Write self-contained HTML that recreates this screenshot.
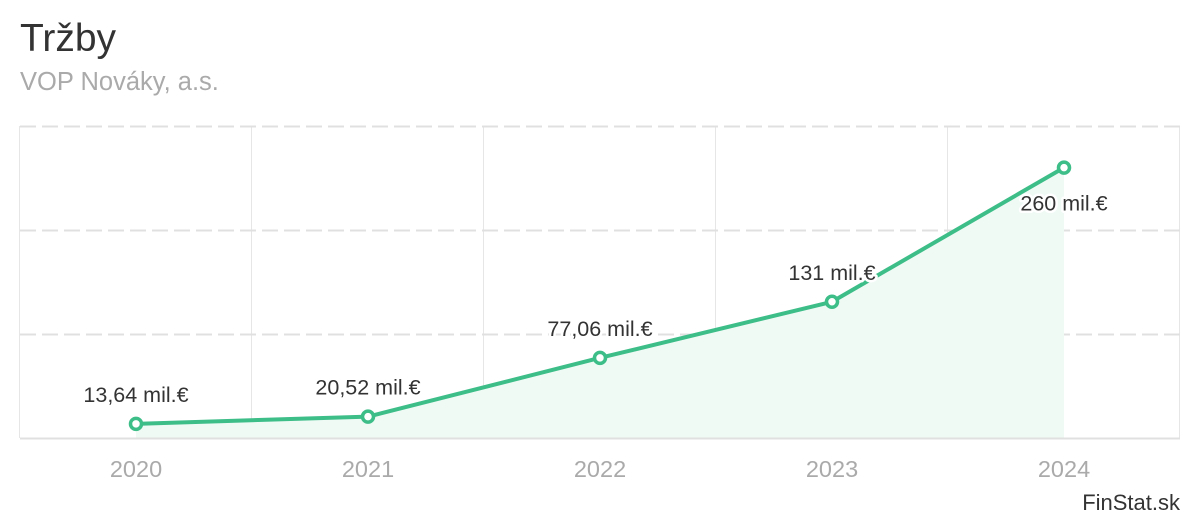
<!DOCTYPE html>
<html><head><meta charset="utf-8"><style>
body{margin:0;background:#fff;width:1200px;height:520px;overflow:hidden;font-family:"Liberation Sans",sans-serif}
svg{position:absolute;left:0;top:0}
</style></head><body>
<svg width="1200" height="520" id="c">
<text x="20" y="51" font-size="39" fill="#333">Tržby</text>
<text x="20" y="90" font-size="25.5" fill="#aaa">VOP Nováky, a.s.</text>
<text x="1180" y="510" font-size="22" fill="#333" text-anchor="end">FinStat.sk</text>
</svg>
<script>
const categories=['2020','2021','2022','2023','2024'];
const values=[13.64,20.52,77.06,131,260];
const valueLabels=['13,64 mil.€','20,52 mil.€','77,06 mil.€','131 mil.€','260 mil.€'];
const yTicks=[0,100,200,300];
const NS='http://www.w3.org/2000/svg';
const svg=document.getElementById('c');
const L=20,R=1180,T=126,B=438,yMax=300;
const bw=(R-L)/categories.length;
const x=i=>L+bw*(i+0.5);
const y=v=>B-(v/yMax)*(B-T);
function mk(tag,a,parent){const e=document.createElementNS(NS,tag);for(const k in a)e.setAttribute(k,a[k]);(parent||svg).appendChild(e);return e;}
const g=mk('g',{});


let d='M'+x(0)+','+B;values.forEach((v,i)=>d+=' L'+x(i)+','+y(v));d+=' L'+x(values.length-1)+','+B+' Z';
const area=mk('path',{d:d,fill:'#effaf5'});


for(let i=0;i<=categories.length;i++){const xx=Math.round(L+bw*i)-0.5;const l=mk('line',{x1:xx,x2:xx,y1:T,y2:B,stroke:'#e6e6e6','stroke-width':1},g);

}
yTicks.forEach(t=>{if(t===0)return;const yy=Math.round(y(t))+0.5;const l=mk('line',{x1:L,x2:R,y1:yy,y2:yy,stroke:'#e0e0e0','stroke-width':2,'stroke-dasharray':'16,6'},g);

});
const ax=mk('line',{x1:L,x2:R,y1:B+0.5,y2:B+0.5,stroke:'#e0e0e0','stroke-width':2});


categories.forEach((c,i)=>{const t=mk('text',{x:x(i),y:477,'font-size':23.5,fill:'#aaa','text-anchor':'middle'});t.textContent=c;

});
const line=mk('polyline',{points:values.map((v,i)=>x(i)+','+y(v)).join(' '),fill:'none',stroke:'#3dbd88','stroke-width':4,'stroke-linejoin':'round'});


values.forEach((v,i)=>{const p=mk('circle',{cx:x(i),cy:y(v),r:5.5,fill:'#fff',stroke:'#3dbd88','stroke-width':3.5});

});
values.forEach((v,i)=>{const last=i===values.length-1;const t=mk('text',{x:x(i),y:y(v)+(last?43:-22),'font-size':21.5,fill:'#333','text-anchor':'middle',stroke:'#fff','stroke-width':5,'paint-order':'stroke','stroke-linejoin':'round'});t.textContent=valueLabels[i];

});
</script>
</body></html>
